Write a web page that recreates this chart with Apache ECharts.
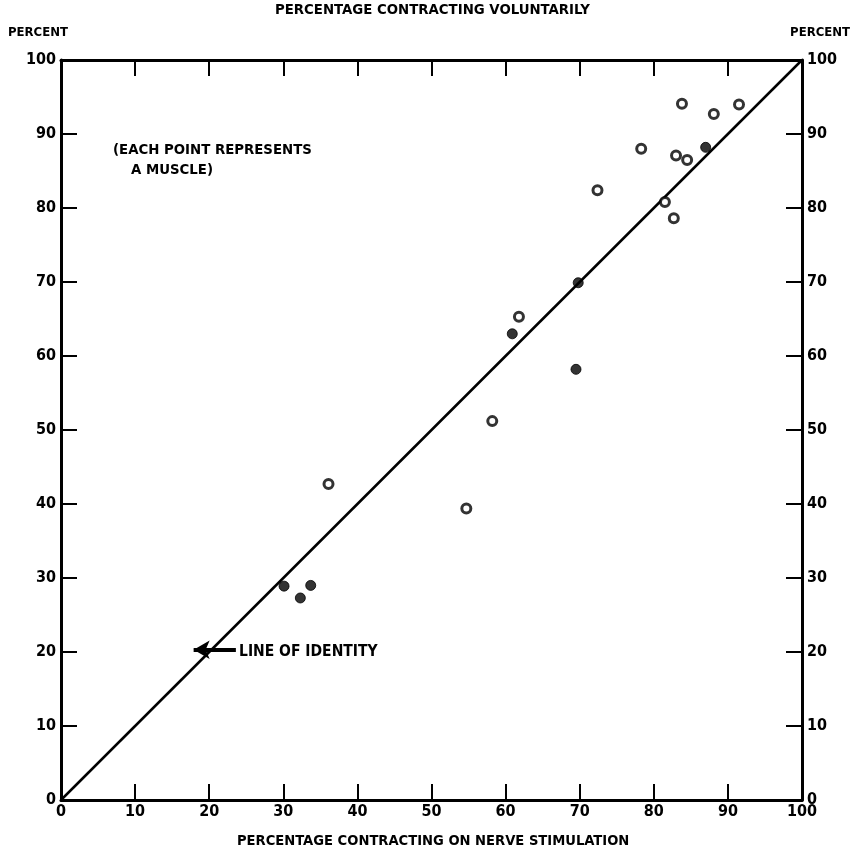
<!DOCTYPE html>
<html>
<head>
<meta charset="utf-8">
<script src="https://cdn.jsdelivr.net/npm/echarts@6/dist/echarts.min.js"></script>
<style>html,body{margin:0;padding:0;background:#fff}#c{width:854px;height:861px}</style>
</head>
<body>
<div id="c"></div>
<script>
// Open-circle muscles: [nerve stimulation %, voluntary %]
const openX = [36.1, 54.7, 58.2, 61.8, 72.4, 78.3, 81.5, 82.7, 83.0, 83.8, 84.5, 88.1, 91.5];
const openY = [42.7, 39.4, 51.2, 65.3, 82.4, 88.0, 80.8, 78.6, 87.1, 94.1, 86.5, 92.7, 94.0];
// Filled-circle muscles
const filledX = [30.1, 32.3, 33.7, 60.9, 69.5, 69.8, 87.0];
const filledY = [28.9, 27.3, 29.0, 63.0, 58.2, 69.9, 88.2];
// Line of identity
const identityX = [0, 100];
const identityY = [0, 100];
// Arrow pointing to line of identity
const arrowX = [23.6, 17.9];
const arrowY = [20.3, 20.3];

const FONT = '"DejaVu Sans Condensed", "Liberation Sans Narrow", "DejaVu Sans", sans-serif';
const zip = (a, b) => a.map((v, i) => [v, b[i]]);

const axisCommon = {
  type: 'value', min: 0, max: 100, interval: 10,
  axisLine: { show: true, onZero: false, lineStyle: { color: '#000', width: 3 } },
  axisTick: { show: true, inside: true, length: 16, lineStyle: { color: '#000', width: 2 } },
  splitLine: { show: false },
  axisLabel: { color: '#000', fontFamily: FONT, fontWeight: 'bold', fontSize: 16 }
};

const chart = echarts.init(document.getElementById('c'));
chart.setOption({
  backgroundColor: '#fff',
  animation: false,
  grid: { left: 61, right: 52, top: 60, bottom: 61 },
  xAxis: [
    Object.assign({}, axisCommon, { position: 'bottom', axisLabel: Object.assign({}, axisCommon.axisLabel, { margin: 4 }) }),
    Object.assign({}, axisCommon, { position: 'top', axisLabel: { show: false } })
  ],
  yAxis: [
    Object.assign({}, axisCommon, { position: 'left', axisLabel: Object.assign({}, axisCommon.axisLabel, { margin: 5 }) }),
    Object.assign({}, axisCommon, { position: 'right', axisLabel: Object.assign({}, axisCommon.axisLabel, { margin: 5 }) })
  ],
  series: [
    {
      type: 'line', data: zip(identityX, identityY), symbol: 'none',
      lineStyle: { color: '#000', width: 2.5 }, z: 2,
      markLine: {
        silent: true, symbol: ['none', 'arrow'], symbolSize: [14, 16],
        lineStyle: { color: '#000', width: 4, type: 'solid' },
        label: { show: false },
        data: [[{ coord: [arrowX[0], arrowY[0]] }, { coord: [arrowX[1], arrowY[1]] }]]
      }
    },
    {
      type: 'scatter', data: zip(openX, openY), symbol: 'circle', symbolSize: 9,
      itemStyle: { color: '#fff', borderColor: '#000', borderWidth: 3 }, z: 3
    },
    {
      type: 'scatter', data: zip(filledX, filledY), symbol: 'circle', symbolSize: 10,
      itemStyle: { color: '#000', borderColor: '#000', borderWidth: 1 }, z: 3
    }
  ],
  graphic: [
    { type: 'text', left: 275, top: 3, style: { text: 'PERCENTAGE CONTRACTING VOLUNTARILY', font: 'bold 14.8px ' + FONT, fill: '#000' } },
    { type: 'text', left: 8, top: 26, style: { text: 'PERCENT', font: 'bold 13px ' + FONT, fill: '#000' } },
    { type: 'text', right: 4, top: 26, style: { text: 'PERCENT', font: 'bold 13px ' + FONT, fill: '#000' } },
    { type: 'text', left: 237, top: 834, style: { text: 'PERCENTAGE CONTRACTING ON NERVE STIMULATION', font: 'bold 14.6px ' + FONT, fill: '#000' } },
    { type: 'text', left: 113, top: 143, style: { text: '(EACH POINT REPRESENTS', font: 'bold 14.8px ' + FONT, fill: '#000' } },
    { type: 'text', left: 131, top: 163, style: { text: 'A MUSCLE)', font: 'bold 14.8px ' + FONT, fill: '#000' } },
    { type: 'text', left: 239, top: 644, style: { text: 'LINE OF IDENTITY', font: 'bold 15.5px ' + FONT, fill: '#000' } }
  ]
});
</script>
</body>
</html>
